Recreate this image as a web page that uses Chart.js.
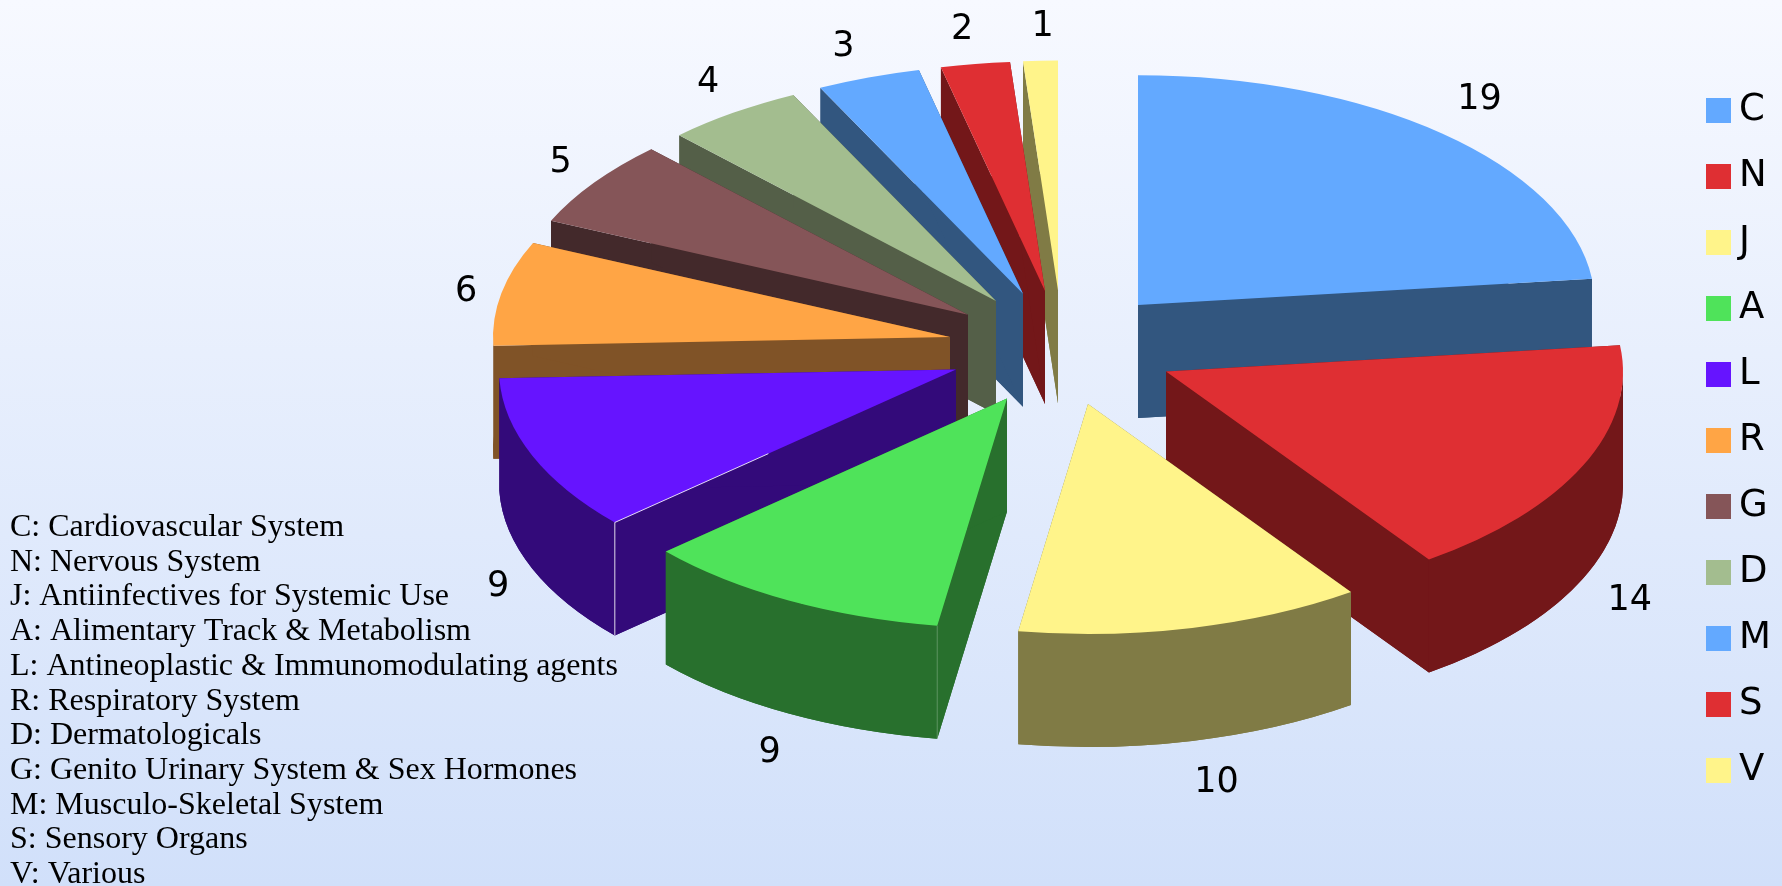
<!DOCTYPE html>
<html>
<head>
<meta charset="utf-8">
<title>Drug classes</title>
<script src="https://cdn.jsdelivr.net/npm/chart.js@4"></script>
<style>
  html, body { margin: 0; padding: 0; width: 1782px; height: 886px; overflow: hidden; }
  body { background: linear-gradient(to bottom, #f7f9ff 0%, #d1e0fa 100%); }
  #chartBox { position: relative; width: 1782px; height: 886px; }
</style>
</head>
<body>
<div id="chartBox"><canvas id="pie3d"></canvas></div>
<script>
const categories = ['C', 'N', 'J', 'A', 'L', 'R', 'G', 'D', 'M', 'S', 'V'];
const counts = [19, 14, 10, 9, 9, 6, 5, 4, 3, 2, 1];
const descriptions = [
  'C: Cardiovascular System',
  'N: Nervous System',
  'J: Antiinfectives for Systemic Use',
  'A: Alimentary Track & Metabolism',
  'L: Antineoplastic & Immunomodulating agents',
  'R: Respiratory System',
  'D: Dermatologicals',
  'G: Genito Urinary System & Sex Hormones',
  'M: Musculo-Skeletal System',
  'S: Sensory Organs',
  'V: Various'
];
const topColors = ['#63a9ff', '#df2f33', '#fff48a', '#4fe35a', '#6614ff', '#ffa545', '#855558', '#a3bd8f', '#63a9ff', '#df2f33', '#fff48a'];
const sideColors = ['#32567f', '#731719', '#807b45', '#28702d', '#330a7a', '#805327', '#43292b', '#545f48', '#32567f', '#731719', '#807b45'];
// small hand nudges for the value labels, the original does not place them evenly
const labelNudgeX = [13, 13, 16, -2, 0, 1, -4, -4, -13, -7, 4];
const labelNudgeY = [-2, 5, 1, 2, 3, 7, 5, 5, 9, 8, 9];
// thin light seam on the front corner of some slices
const seamAlpha = [0, 0, 0, 0.25, 0.85, 0, 0, 0, 0, 0, 0];

// look of the fake 3d
const pieX = 1062, pieY = 348;
const radius = 457, tilt = 0.503, depth = 113, explode = 114.5;

const pie3d = {
  id: 'pie3d',
  beforeDatasetsDraw(chart) {
    const ctx = chart.ctx;
    const arcs = chart.getDatasetMeta(0).data;
    // back slices first so the front ones cover them
    const order = arcs.map((a, i) => i).sort((p, q) => midSin(arcs[p]) - midSin(arcs[q]));
    order.forEach(i => {
      const arc = arcs[i];
      const mid = (arc.startAngle + arc.endAngle) / 2;
      // whole pixels, keeps the vertical slice edges crisp
      const ax = Math.round(pieX + explode * Math.cos(mid));
      const ay = pieY + explode * Math.sin(mid) * tilt;
      drawWalls(ctx, arc, ax, ay, sideColors[i]);
      // top face: the library's own arc, squashed
      ctx.save();
      ctx.translate(ax, ay);
      ctx.scale(1, tilt);
      ctx.translate(-arc.x, -arc.y);
      arc.draw(ctx);
      ctx.restore();
      if (seamAlpha[i] > 0) drawSeam(ctx, arc, ax, ay, seamAlpha[i]);
    });
    return false; // already drawn
  },
  afterDraw(chart) {
    const ctx = chart.ctx;
    const arcs = chart.getDatasetMeta(0).data;
    ctx.save();
    ctx.fillStyle = '#000';
    ctx.font = '35px "DejaVu Sans"';
    ctx.textAlign = 'center';
    ctx.textBaseline = 'middle';
    arcs.forEach((arc, i) => {
      const mid = (arc.startAngle + arc.endAngle) / 2;
      const sin = Math.sin(mid);
      const lx = pieX + 608 * Math.cos(mid) + labelNudgeX[i];
      const ly = pieY + 330 * sin + (sin > 0 ? depth : 0) + labelNudgeY[i];
      ctx.fillText(String(counts[i]), lx, ly);
    });
    ctx.font = '32px "Liberation Serif"';
    ctx.textAlign = 'left';
    ctx.textBaseline = 'alphabetic';
    descriptions.forEach((line, i) => ctx.fillText(line, 10, 536 + i * 34.7));
    ctx.restore();
  }
};

function midSin(arc) {
  return Math.sin((arc.startAngle + arc.endAngle) / 2);
}

function drawWalls(ctx, arc, ax, ay, color) {
  const s = arc.startAngle, e = arc.endAngle;
  const ry = radius * tilt;
  const px = a => ax + radius * Math.cos(a);
  const py = a => ay + ry * Math.sin(a);
  ctx.save();
  ctx.fillStyle = color;
  // bottom face
  ctx.beginPath();
  ctx.moveTo(ax, ay + depth);
  ctx.ellipse(ax, ay + depth, radius, ry, 0, s, e);
  ctx.closePath();
  ctx.fill();
  // the two cut faces
  [s, e].forEach(a => {
    ctx.beginPath();
    ctx.moveTo(ax, ay);
    ctx.lineTo(px(a), py(a));
    ctx.lineTo(px(a), py(a) + depth);
    ctx.lineTo(ax, ay + depth);
    ctx.closePath();
    ctx.fill();
  });
  // outer rim, front half only
  const lo = Math.max(s, 0), hi = Math.min(e, Math.PI);
  if (hi > lo) {
    ctx.beginPath();
    ctx.ellipse(ax, ay, radius, ry, 0, lo, hi);
    ctx.ellipse(ax, ay + depth, radius, ry, 0, hi, lo, true);
    ctx.closePath();
    ctx.fill();
  }
  ctx.restore();
}

function drawSeam(ctx, arc, ax, ay, alpha) {
  const cx = ax + radius * Math.cos(arc.startAngle);
  const cy = ay + radius * tilt * Math.sin(arc.startAngle);
  ctx.save();
  ctx.strokeStyle = 'rgba(255,255,255,' + alpha + ')';
  ctx.lineWidth = 1;
  ctx.beginPath();
  ctx.moveTo(cx, cy + depth);
  ctx.lineTo(cx, cy);
  // the bright one also runs part of the way up the cut edge
  if (alpha > 0.5) ctx.lineTo(cx + (ax - cx) * 0.45, cy + (ay - cy) * 0.45);
  ctx.stroke();
  ctx.restore();
}

// legend swatches as small canvases, Chart.js leaves too wide a gap before the letter otherwise
function swatch(color) {
  const c = document.createElement('canvas');
  c.width = 25;
  c.height = 25;
  const g = c.getContext('2d');
  g.fillStyle = color;
  g.fillRect(0, 0, 25, 25);
  return c;
}

const pieLabels = Chart.overrides.pie.plugins.legend.labels.generateLabels;

new Chart(document.getElementById('pie3d'), {
  type: 'pie',
  data: {
    labels: categories,
    datasets: [{
      data: counts,
      backgroundColor: topColors,
      borderWidth: 0
    }]
  },
  options: {
    responsive: true,
    maintainAspectRatio: false,
    animation: false,
    radius: radius,
    layout: { padding: { top: 63, right: 1 } },
    plugins: {
      tooltip: { enabled: false },
      legend: {
        position: 'right',
        align: 'start',
        labels: {
          usePointStyle: true,
          pointStyleWidth: 4,
          boxHeight: 25,
          padding: 29,
          color: '#000',
          font: { family: '"DejaVu Sans"', size: 37 },
          generateLabels(chart) {
            return pieLabels(chart).map((item, i) => {
              item.pointStyle = swatch(topColors[i]);
              return item;
            });
          }
        }
      }
    }
  },
  plugins: [pie3d]
});
</script>
</body>
</html>
